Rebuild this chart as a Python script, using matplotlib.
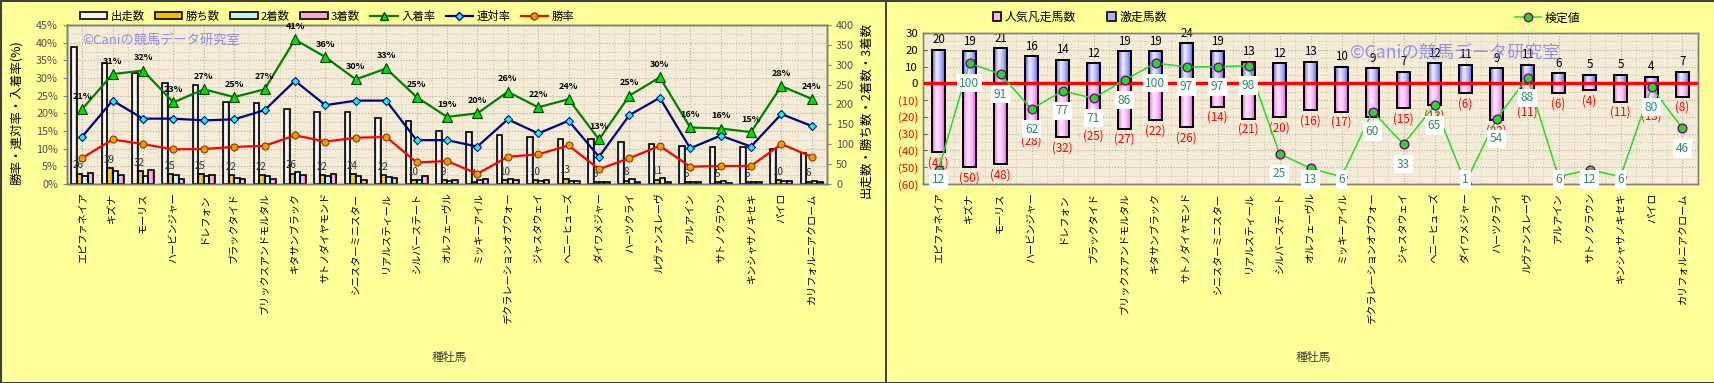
import numpy as np
import matplotlib
matplotlib.use('Agg')
import matplotlib.pyplot as plt
from matplotlib.colors import LinearSegmentedColormap
from matplotlib.patches import Rectangle, Patch
from matplotlib.lines import Line2D
from matplotlib.ticker import MultipleLocator, FixedLocator

plt.rcParams['font.family'] = ['Noto Sans CJK JP', 'DejaVu Sans']

# ---------------- data ----------------
horses = ['エピファネイア', 'キズナ', 'モーリス', 'ハービンジャー', 'ドレフォン', 'ブラックタイド',
          'ブリックスアンドモルタル', 'キタサンブラック', 'サトノダイヤモンド', 'シニスターミニスター',
          'リアルスティール', 'シルバーステート', 'オルフェーヴル', 'ミッキーアイル',
          'デクラレーションオブウォー', 'ジャスタウェイ', 'ヘニーヒューズ', 'ダイワメジャー',
          'ハーツクライ', 'ルヴァンスレーヴ', 'アルアイン', 'サトノクラウン', 'キンシャサノキセキ',
          'パイロ', 'カリフォルニアクローム']
starts = [345, 305, 278, 253, 248, 206, 203, 188, 182, 182, 165, 158, 133, 130, 124, 117, 114, 114,
          106, 101, 96, 93, 93, 88, 77]
wins = [26, 39, 32, 25, 25, 22, 22, 26, 22, 24, 22, 10, 9, 4, 10, 10, 13, 5, 8, 11, 5, 5, 5, 10, 6]
seconds = [20, 33, 19, 22, 20, 16, 20, 29, 19, 19, 17, 10, 8, 10, 13, 7, 7, 4, 13, 14, 5, 8, 5, 7, 7]
thirds = [27, 23, 36, 12, 22, 13, 12, 22, 25, 11, 15, 19, 9, 12, 10, 9, 7, 6, 6, 6, 6, 2, 4, 7, 6]
place_rate = [21.2, 31.1, 32.1, 23.1, 26.8, 24.6, 26.8, 40.9, 35.9, 29.6, 32.7, 24.6, 19.0, 20.0,
              26.1, 21.7, 24.0, 12.6, 25.0, 30.2, 16.0, 15.7, 14.7, 27.7, 24.1]
ren_rate = [13.4, 23.6, 18.5, 18.5, 18.0, 18.3, 20.9, 29.2, 22.3, 23.6, 23.6, 12.4, 12.4, 10.6,
            18.3, 14.3, 17.9, 7.7, 19.5, 24.4, 10.1, 13.7, 10.6, 19.8, 16.4]
win_rate = [7.4, 12.6, 11.3, 9.8, 9.9, 10.5, 10.8, 13.8, 12.0, 13.1, 13.3, 6.1, 6.5, 2.9, 7.7, 8.4,
            10.9, 4.2, 7.3, 10.8, 4.9, 5.1, 5.1, 11.3, 7.7]

gekisou = [20, 19, 21, 16, 14, 12, 19, 19, 24, 19, 13, 12, 13, 10, 9, 7, 12, 11, 9, 11, 6, 5, 5, 4, 7]
bonsou = [41, 50, 48, 28, 32, 25, 27, 22, 26, 14, 21, 20, 16, 17, 20, 15, 13, 6, 22, 11, 6, 4, 11, 13, 8]
kentei = [12, 100, 91, 62, 77, 71, 86, 100, 97, 97, 98, 25, 13, 6, 60, 33, 65, 1, 54, 88, 6, 12, 6, 80, 46]

left_yticks = list(range(0, 46, 5))
right_yticks = list(range(0, 401, 50))
r_yticks = list(range(-60, 31, 10))

# ---------------- layout helpers ----------------
W, H = 1715, 383
fig = plt.figure(figsize=(W / 100, H / 100), dpi=100, facecolor='#FFFF99')


def fx(px):
    return px / W


def fy(py):
    return 1 - py / H


def axes_rect(x0, y0, x1, y1):
    return [fx(x0), fy(y1), fx(x1) - fx(x0), fy(y0) - fy(y1)]


PARCH = '#F4ECD6'
GRID = '#B8B0A0'
TXT = '#3A3A3A'
grad = np.linspace(0, 1, 64).reshape(1, -1)


def gcmap(colors):
    return LinearSegmentedColormap.from_list('g', colors)


def grad_bars(ax, x, heights, width, colors, z, bottom=0, lw=1.2):
    bars = ax.bar(x, heights, width, bottom=bottom, facecolor='none', edgecolor='black',
                  linewidth=lw, zorder=z + 0.1)
    cm = gcmap(colors)
    for b in bars:
        bx, by = b.get_xy()
        w, h = b.get_width(), b.get_height()
        im = ax.imshow(grad, cmap=cm, extent=[bx, bx + w, by, by + h], aspect='auto',
                       zorder=z, interpolation='bilinear')
        im.set_clip_path(b)
    return bars


n = len(horses)
xs = np.arange(n)

WHITE_C = ['#A0A0A0', '#FFFFFF', '#F0F0F0', '#888888']
GOLD_C = ['#C08800', '#FFD840', '#F0C000', '#A87800']
CYAN_C = ['#70D0E0', '#E8FFFF', '#B8F0F8', '#60C0D0']
PINK3_C = ['#D860B0', '#FFC8E8', '#F8A0D8', '#C85098']
BLUE_C = ['#5A5AF4', '#F0F0FF', '#B0B0FF', '#4848D8']
PINK_C = ['#F060F0', '#FFF0FF', '#FFB0FF', '#D848D8']

# ================= LEFT CHART =================
axg = fig.add_axes(axes_rect(67, 25, 827, 184))
axg.set_facecolor(PARCH)
axb = axg.twinx()
axl = axg.twinx()
axg.set_zorder(1)
axb.set_zorder(2)
axl.set_zorder(3)
for a in (axb, axl):
    a.patch.set_visible(False)
for a in (axg, axb, axl):
    a.set_xlim(-0.5, n - 0.5)
axg.set_ylim(0, 45)
axl.set_ylim(0, 45)
axb.set_ylim(0, 400)
axl.yaxis.set_visible(False)

axg.yaxis.set_major_locator(FixedLocator(left_yticks))
axg.yaxis.set_minor_locator(MultipleLocator(2.5))
axg.set_yticklabels([f'{t}%' for t in left_yticks])
axg.xaxis.set_major_locator(FixedLocator(xs))
axg.xaxis.set_minor_locator(FixedLocator(xs[:-1] + 0.5))
axg.set_xticklabels(horses, rotation=90, ha='center', va='top', fontsize=7.3, color='black')
axg.tick_params(axis='x', which='both', length=0, pad=6)
axg.tick_params(axis='y', which='major', labelsize=7.8, labelcolor='#505050', length=3,
                color='#808080', direction='out')
axg.tick_params(axis='y', which='minor', length=0)
axg.grid(True, which='major', color=GRID, ls=':', lw=0.8)
axg.grid(True, which='minor', color='#CFC6B2', ls=':', lw=0.6)
axg.set_axisbelow(True)

axb.yaxis.set_major_locator(FixedLocator(right_yticks))
axb.tick_params(axis='y', labelsize=7.8, labelcolor='#505050', length=3, color='#808080')
for a in (axg, axb, axl):
    for s in a.spines.values():
        s.set_color('#808080')
        s.set_linewidth(1.0)

bw = 0.18
grad_bars(axb, xs - 0.27, starts, bw, WHITE_C, 2)
grad_bars(axb, xs - 0.09, wins, bw, GOLD_C, 2)
grad_bars(axb, xs + 0.09, seconds, bw, CYAN_C, 2)
grad_bars(axb, xs + 0.27, thirds, bw, PINK3_C, 2)
for i, v in enumerate(wins):
    axb.annotate(str(v), (xs[i] - 0.12, v), xytext=(0, 2.5), textcoords='offset points',
                 ha='center', va='bottom', fontsize=7, color='#303030', zorder=6)

axl.plot(xs, place_rate, color='#008000', lw=1.6, marker='^', ms=6.5, mfc='#00DD00',
         mec='#004000', mew=0.8, zorder=5)
axl.plot(xs, ren_rate, color='#000080', lw=1.6, marker='D', ms=4.2, mfc='#00FFFF',
         mec='#000080', mew=0.8, zorder=5)
axl.plot(xs, win_rate, color='#FF0000', lw=1.6, marker='o', ms=5, mfc='#FF9900',
         mec='#804000', mew=0.8, zorder=5)
for i, v in enumerate(place_rate):
    axl.annotate(f'{round(v)}%', (xs[i], v), xytext=(0, 6), textcoords='offset points',
                 ha='center', va='bottom', fontsize=6.5, fontweight='bold', color='black',
                 zorder=7)

# legend left
hl = [Patch(facecolor='#F4F4F4', edgecolor='black', lw=1.2),
      Patch(facecolor='#F0C000', edgecolor='black', lw=1.2),
      Patch(facecolor='#C0F4F8', edgecolor='black', lw=1.2),
      Patch(facecolor='#F8A8D8', edgecolor='black', lw=1.2),
      Line2D([], [], color='#008000', lw=1.6, marker='^', ms=6, mfc='#00DD00', mec='#004000'),
      Line2D([], [], color='#000080', lw=1.6, marker='D', ms=4, mfc='#00FFFF', mec='#000080'),
      Line2D([], [], color='#FF0000', lw=1.6, marker='o', ms=5, mfc='#FF9900', mec='#804000')]
ll = ['出走数', '勝ち数', '2着数', '3着数', '入着率', '連対率', '勝率']
fig.legend(hl, ll, loc='center left', bbox_to_anchor=(fx(80), fy(16)), ncol=7, frameon=False,
           fontsize=8.2, handlelength=2.4, handleheight=0.65, handletextpad=0.3,
           columnspacing=0.9, borderpad=0, borderaxespad=0)

fig.text(fx(17), fy(113), '勝率・連対率・入着率(%)', rotation=90, ha='center', va='center',
         fontsize=9, color='black')
fig.text(fx(866), fy(110), '出走数・勝ち数・2着数・3着数', rotation=90, ha='center', va='center',
         fontsize=9, color='black')
fig.text(fx(449), fy(358), '種牡馬', ha='center', va='center', fontsize=8.5, color=TXT)
fig.text(fx(82), fy(40), '©Caniの競馬データ研究室', ha='left', va='center', fontsize=9.5,
         color='#6E6EF0', alpha=0.75, zorder=20)

# ================= RIGHT CHART =================
RT, RB = 33, 184
axr = fig.add_axes(axes_rect(923, RT, 1698, RB))
axr.set_facecolor(PARCH)
axk = axr.twinx()
axk.patch.set_visible(False)
axr.set_xlim(-0.5, n - 0.5)
axk.set_xlim(-0.5, n - 0.5)
axr.set_ylim(-60, 30)
axk.set_ylim(0, 125)
axk.yaxis.set_visible(False)

axr.yaxis.set_major_locator(FixedLocator(r_yticks))
axr.yaxis.set_minor_locator(MultipleLocator(5))
axr.set_yticklabels([str(t) if t >= 0 else f'({-t})' for t in r_yticks])
for lab, t in zip(axr.get_yticklabels(), r_yticks):
    lab.set_color('black' if t >= 0 else '#FF0000')
axr.tick_params(axis='y', which='major', labelsize=8.2, length=3, direction='in', color='#606060')
axr.tick_params(axis='y', which='minor', length=0)
axr.xaxis.set_major_locator(FixedLocator(xs))
axr.xaxis.set_minor_locator(FixedLocator(xs[:-1] + 0.5))
axr.set_xticklabels(horses, rotation=90, ha='center', va='top', fontsize=7.3, color='black')
axr.tick_params(axis='x', which='both', length=0, pad=6)
axr.grid(True, which='major', color=GRID, ls=':', lw=0.8)
axr.grid(True, which='minor', color='#CFC6B2', ls=':', lw=0.6)
axr.set_axisbelow(True)
for a in (axr, axk):
    for s in a.spines.values():
        s.set_color('#808080')
        s.set_linewidth(1.0)

rbw = 0.42
grad_bars(axr, xs, [-v for v in bonsou], rbw, PINK_C, 2, lw=1.4)
grad_bars(axr, xs, gekisou, rbw, BLUE_C, 2, lw=1.4)
axr.axhline(0, color='#FF0000', lw=2.4, zorder=4)
for i in range(n):
    axr.annotate(str(gekisou[i]), (xs[i], gekisou[i]), xytext=(0, 2.5), textcoords='offset points',
                 ha='center', va='bottom', fontsize=8.3, color='black', zorder=6)
    axr.annotate(f'({bonsou[i]})', (xs[i], -bonsou[i]), xytext=(0, -3), textcoords='offset points',
                 ha='center', va='top', fontsize=8.3, color='#FF0000', zorder=6)

axk.plot(xs, kentei, color='#22DD22', lw=1.1, marker='o', ms=6.3, mfc='#22DD22', mec='#800080',
         mew=1.0, zorder=5)
ppu = (RB - RT) / 125.0
for i, v in enumerate(kentei):
    ly = max(v - 20 / ppu, 4.5 / ppu)
    axk.text(xs[i], ly, str(v), ha='center', va='center', fontsize=8.6, color='#2E8B6E',
             zorder=8, bbox=dict(boxstyle='square,pad=0.22', fc='white', ec='none'))

hr = [Patch(facecolor='#FFB0FF', edgecolor='black', lw=1.2),
      Patch(facecolor='#B0B0FF', edgecolor='black', lw=1.2)]
fig.legend(hr, ['人気凡走馬数', '激走馬数'], loc='center left', bbox_to_anchor=(fx(993), fy(17)),
           ncol=2, frameon=False, fontsize=8.6, handlelength=0.7, handleheight=0.7,
           handletextpad=0.3, columnspacing=2.6, borderpad=0, borderaxespad=0)
fig.legend([Line2D([], [], color='#22DD22', lw=1.1, marker='o', ms=6, mfc='#22DD22', mec='#800080')],
           ['検定値'], loc='center left', bbox_to_anchor=(fx(1515), fy(18)), frameon=False,
           fontsize=8.6, handlelength=2.2, handletextpad=0.3, borderpad=0, borderaxespad=0)

fig.text(fx(1313), fy(358), '種牡馬', ha='center', va='center', fontsize=8.5, color=TXT)
fig.text(fx(1350), fy(53), '©Caniの競馬データ研究室', ha='left', va='center', fontsize=12.7,
         color='#6E6EF0', alpha=0.7, zorder=20)

# borders
fig.add_artist(Rectangle((0, 0), 1, 1, transform=fig.transFigure, fill=False, ec='#404040', lw=2.2))
fig.add_artist(Line2D([fx(886.5)] * 2, [0, 1], transform=fig.transFigure, color='#404040', lw=1.4))

fig.savefig('out.png', dpi=100, facecolor=fig.get_facecolor())
